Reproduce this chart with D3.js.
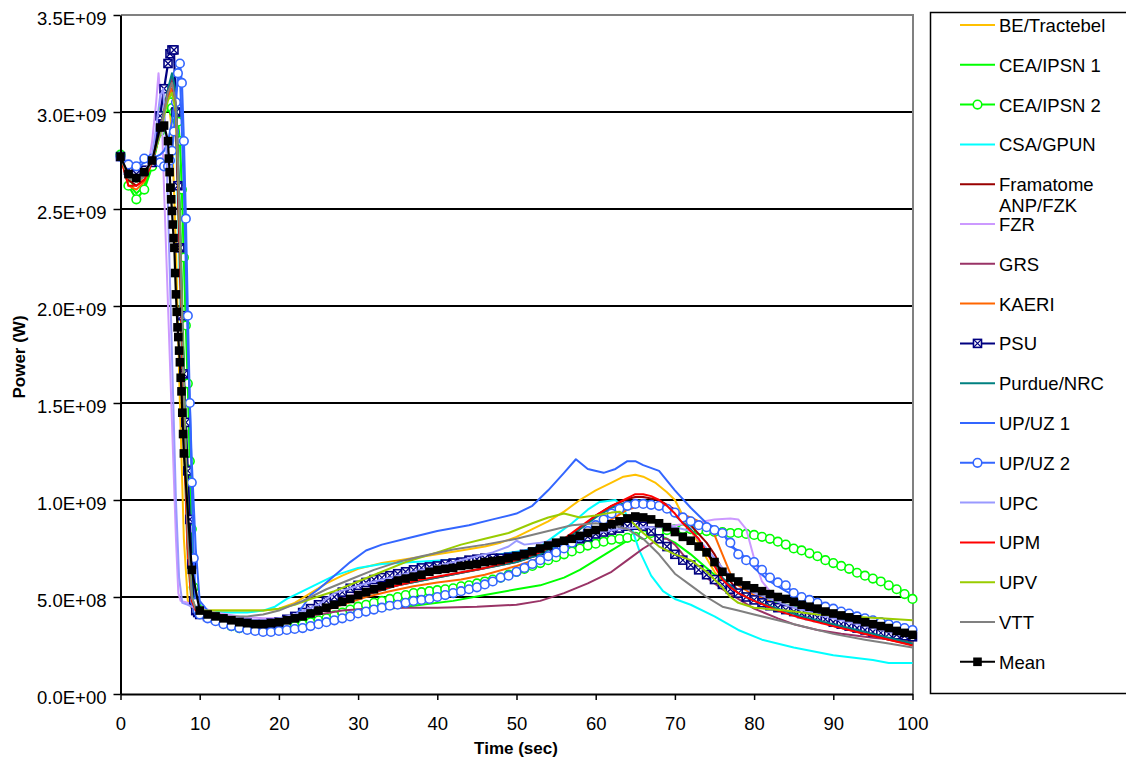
<!DOCTYPE html>
<html>
<head>
<meta charset="utf-8">
<script src="https://cdn.jsdelivr.net/npm/d3@7"></script>
<style>
  body { margin: 0; background: #fff; }
  text { font-family: "Liberation Sans", Arial, sans-serif; fill: #000; }
</style>
</head>
<body>
<svg id="chart" width="1126" height="765"></svg>
<script>
// time in s, power in units of 1E+09 W

var yTicks = [0, 0.5, 1, 1.5, 2, 2.5, 3, 3.5];
var xTicks = [0, 10, 20, 30, 40, 50, 60, 70, 80, 90, 100];

// series without markers: [time, power]
var beTractebel = [[0,2.77],[1,2.67],[2,2.64],[3,2.66],[4,2.75],[4.5,2.88],[5,3.0],[5.5,3.06],[6,3.08],[6.5,2.9],[7,2.3],[7.5,1.5],[8,0.8],[8.5,0.48],[9,0.44],[10,0.43],[12,0.43],[14,0.43],[16,0.43],[18,0.43],[20,0.44],[22,0.47],[24,0.52],[26,0.57],[28,0.61],[30,0.645],[33,0.675],[36,0.695],[40,0.72],[43,0.74],[46,0.76],[48,0.78],[50,0.81],[52,0.85],[54,0.89],[56,0.94],[58,1.0],[60,1.05],[62,1.09],[63.5,1.12],[65,1.13],[66,1.12],[67.5,1.09],[69,1.04],[70,1.0],[71,0.92],[72,0.84],[73,0.78],[74,0.70],[75,0.63],[76,0.58],[77,0.54],[78,0.52],[80,0.50],[82,0.48],[85,0.45],[88,0.41],[90,0.38],[93,0.34],[95,0.32],[98,0.29],[100,0.27]];
var ceaIpsn1 = [[0,2.77],[1,2.63],[2,2.58],[3,2.62],[4,2.73],[5,2.9],[5.5,3.0],[6,3.05],[6.5,3.07],[7,3.0],[7.5,2.5],[8,1.7],[8.5,1.0],[9,0.55],[9.5,0.45],[10,0.43],[12,0.39],[15,0.36],[17,0.35],[20,0.35],[23,0.36],[26,0.38],[30,0.41],[34,0.44],[38,0.46],[42,0.48],[46,0.51],[50,0.54],[53,0.56],[56,0.60],[58,0.64],[60,0.69],[62,0.74],[64,0.79],[66,0.825],[67,0.83],[68,0.82],[70,0.78],[72,0.72],[74,0.65],[76,0.58],[78,0.53],[80,0.50],[83,0.47],[86,0.44],[90,0.40],[94,0.35],[97,0.32],[100,0.30]];
var csaGpun = [[0,2.77],[1,2.66],[2,2.64],[3,2.67],[4,2.75],[5,2.88],[5.5,2.98],[6,3.08],[6.5,3.12],[7,2.9],[7.5,2.1],[8,1.3],[8.5,0.7],[9,0.46],[9.5,0.43],[10,0.43],[13,0.42],[16,0.42],[18,0.43],[19.5,0.45],[21,0.49],[22.5,0.52],[25,0.57],[27,0.61],[30,0.65],[33,0.67],[37,0.68],[41,0.69],[44,0.70],[48,0.72],[51,0.74],[53,0.76],[55,0.82],[57,0.88],[59,0.95],[60.5,0.99],[62.5,1.0],[63.5,0.96],[64.5,0.86],[65.5,0.74],[67,0.61],[68.5,0.53],[70,0.49],[72,0.46],[75,0.40],[78,0.33],[81,0.28],[85,0.24],[90,0.20],[95,0.175],[97,0.16],[100,0.16]];
var framatome = [[0,2.77],[1,2.65],[2,2.62],[3,2.65],[4,2.74],[5,2.9],[5.5,3.0],[6,3.1],[6.5,3.18],[7,3.05],[7.5,2.3],[8,1.4],[8.5,0.75],[9,0.48],[9.5,0.43],[10,0.42],[13,0.39],[16,0.37],[19,0.37],[22,0.40],[25,0.44],[28,0.48],[31,0.52],[35,0.56],[40,0.60],[45,0.64],[50,0.68],[53,0.72],[56,0.79],[58,0.85],[60,0.92],[62,0.97],[64,1.005],[65,1.015],[66,1.015],[68,1.0],[70,0.95],[72,0.87],[74,0.78],[75,0.72],[76,0.64],[77,0.58],[78,0.53],[80,0.49],[83,0.44],[86,0.40],[90,0.35],[94,0.31],[97,0.28],[100,0.255]];
var fzr = [[0,2.77],[1,2.68],[2,2.66],[3,2.66],[3.5,2.72],[4,2.85],[4.5,3.05],[4.8,3.2],[5.2,3.0],[5.5,2.6],[6,2.0],[6.5,1.4],[7,0.8],[7.3,0.52],[7.6,0.48],[8.5,0.47],[9.5,0.46],[10,0.45],[12,0.42],[15,0.40],[18,0.39],[20,0.39],[22,0.40],[25,0.44],[28,0.49],[31,0.54],[35,0.59],[40,0.64],[45,0.68],[50,0.72],[55,0.77],[60,0.82],[64,0.85],[67,0.86],[70,0.87],[73,0.885],[75,0.90],[77,0.905],[78,0.90],[79,0.85],[80,0.70],[81,0.58],[82,0.53],[85,0.47],[88,0.42],[91,0.38],[94,0.34],[97,0.31],[100,0.28]];
var grs = [[0,2.77],[1,2.67],[2,2.65],[3,2.68],[4,2.76],[5,2.9],[5.5,3.0],[6,3.1],[6.5,3.18],[7,3.1],[7.5,2.4],[8,1.5],[8.5,0.8],[9,0.5],[9.5,0.43],[10,0.43],[13,0.39],[16,0.37],[19,0.37],[22,0.39],[25,0.41],[28,0.43],[31,0.44],[35,0.445],[40,0.445],[45,0.45],[50,0.46],[53,0.48],[56,0.52],[59,0.57],[62,0.63],[64,0.69],[66,0.75],[68,0.80],[69,0.80],[70,0.77],[72,0.67],[74,0.60],[76,0.54],[78,0.49],[80,0.44],[83,0.39],[85,0.36],[88,0.33],[91,0.31],[95,0.29],[100,0.27]];
var kaeri = [[0,2.77],[1,2.62],[2,2.60],[3,2.64],[4,2.74],[5,2.9],[5.5,3.0],[6,3.08],[6.5,3.12],[7,2.95],[7.5,2.2],[8,1.3],[8.5,0.7],[9,0.46],[9.5,0.43],[10,0.43],[13,0.39],[16,0.37],[19,0.37],[22,0.39],[25,0.42],[28,0.46],[31,0.50],[34,0.53],[37,0.555],[40,0.575],[43,0.59],[46,0.615],[50,0.66],[53,0.70],[56,0.76],[59,0.83],[62,0.90],[64,0.95],[66,0.975],[68,0.97],[70,0.94],[72,0.91],[74,0.87],[75,0.82],[76,0.72],[77,0.62],[78,0.56],[80,0.51],[83,0.46],[86,0.41],[90,0.36],[94,0.32],[97,0.29],[100,0.27]];
var purdueNrc = [[0,2.77],[1,2.66],[2,2.64],[3,2.67],[4,2.75],[5,2.9],[5.5,3.02],[6,3.12],[6.5,3.2],[7,3.1],[7.5,2.45],[8,1.6],[8.5,0.9],[9,0.52],[9.5,0.44],[10,0.42],[13,0.39],[16,0.365],[19,0.365],[22,0.39],[25,0.43],[28,0.47],[31,0.51],[35,0.56],[40,0.60],[45,0.64],[50,0.68],[53,0.72],[56,0.79],[58,0.85],[60,0.91],[62,0.96],[64,0.99],[66,1.0],[67,0.99],[68,0.97],[70,0.92],[72,0.85],[74,0.74],[76,0.60],[78,0.52],[80,0.48],[83,0.44],[86,0.40],[90,0.36],[94,0.32],[97,0.29],[100,0.26]];
var upUz1 = [[0,2.77],[1,2.72],[2,2.71],[3,2.74],[4,2.76],[5,2.78],[5.5,2.8],[6,2.85],[6.5,2.95],[7,3.1],[7.5,3.2],[8,2.6],[8.5,1.8],[9,1.2],[9.5,0.75],[10,0.48],[11,0.43],[13,0.39],[16,0.37],[19,0.37],[21,0.38],[22,0.40],[23,0.45],[24,0.51],[25,0.54],[27,0.61],[29,0.68],[31,0.74],[33,0.77],[36,0.80],[40,0.84],[44,0.87],[47,0.90],[50,0.93],[52,0.97],[54,1.05],[56,1.14],[57.5,1.21],[59,1.16],[61,1.14],[62.5,1.16],[64,1.20],[65,1.20],[66,1.18],[68,1.15],[70,1.05],[72,0.96],[74,0.88],[76,0.84],[77,0.76],[78,0.74],[80,0.65],[82,0.58],[84,0.53],[86,0.49],[90,0.43],[94,0.39],[97,0.36],[100,0.34]];
var upc = [[0,2.77],[1,2.68],[2,2.66],[3,2.68],[4,2.78],[4.5,2.92],[5,3.08],[5.4,3.12],[5.8,2.8],[6.2,2.2],[6.6,1.6],[7,1.0],[7.4,0.6],[7.8,0.47],[8.5,0.46],[9.5,0.44],[10,0.43],[13,0.40],[16,0.38],[19,0.38],[22,0.41],[25,0.46],[27,0.52],[29,0.545],[31,0.57],[34,0.60],[37,0.63],[40,0.66],[44,0.70],[47,0.73],[49,0.76],[50,0.79],[51,0.77],[53,0.78],[56,0.80],[60,0.83],[63,0.85],[66,0.86],[70,0.86],[72,0.84],[74,0.75],[76,0.65],[78,0.57],[80,0.52],[84,0.46],[88,0.41],[92,0.37],[96,0.33],[100,0.29]];
var upm = [[0,2.77],[1,2.62],[2,2.62],[3,2.65],[4,2.74],[5,2.9],[5.5,3.0],[6,3.1],[6.5,3.15],[7,3.0],[7.5,2.3],[8,1.4],[8.5,0.75],[9,0.48],[9.5,0.43],[10,0.43],[13,0.39],[16,0.37],[18,0.365],[20,0.37],[23,0.40],[26,0.44],[30,0.50],[34,0.55],[38,0.59],[42,0.62],[46,0.65],[50,0.69],[53,0.73],[56,0.80],[58,0.86],[60,0.92],[62,0.97],[64,1.01],[65,1.03],[66,1.03],[67,1.02],[68,1.0],[69,0.97],[70,0.93],[71,0.88],[72,0.84],[73,0.80],[74,0.73],[75,0.66],[76,0.59],[77,0.55],[78,0.52],[80,0.48],[83,0.43],[86,0.39],[90,0.35],[93,0.32],[96,0.29],[100,0.25]];
var upv = [[0,2.77],[1,2.66],[2,2.64],[3,2.67],[4,2.75],[5,2.88],[5.5,2.98],[6,3.06],[6.5,3.1],[7,3.0],[7.5,2.4],[8,1.6],[8.5,0.9],[9,0.5],[9.5,0.44],[10,0.43],[12,0.43],[15,0.43],[18,0.43],[20,0.44],[22,0.46],[24,0.49],[27,0.53],[30,0.58],[33,0.63],[36,0.68],[40,0.73],[43,0.77],[46,0.80],[49,0.83],[52,0.88],[54,0.91],[56,0.93],[58,0.91],[60,0.92],[62,0.935],[63,0.94],[64,0.91],[66,0.83],[68,0.76],[70,0.72],[72,0.69],[74,0.63],[76,0.55],[77,0.50],[78,0.47],[80,0.445],[84,0.43],[88,0.41],[92,0.40],[96,0.39],[100,0.38]];
var vtt = [[0,2.77],[1,2.66],[2,2.64],[3,2.67],[4,2.75],[5,2.9],[5.5,3.0],[6,3.1],[6.5,3.15],[7,3.05],[7.5,2.4],[8,1.5],[8.5,0.8],[9,0.5],[9.5,0.44],[10,0.43],[13,0.40],[16,0.40],[18,0.41],[20,0.43],[23,0.48],[26,0.54],[29,0.59],[32,0.64],[35,0.68],[38,0.71],[42,0.745],[46,0.77],[50,0.80],[54,0.84],[57,0.87],[60,0.88],[62,0.87],[64,0.85],[66,0.80],[68,0.72],[70,0.62],[72,0.56],[74,0.50],[76,0.45],[78,0.43],[80,0.41],[83,0.38],[86,0.35],[90,0.31],[94,0.28],[97,0.26],[100,0.24]];

// series with markers: one value per time step
var tStep = d3.range(10, 101);   // 10, 11, ... 100 s
var tMarkEarly = [0,1,2,3,4,5,5.5,6,6.25,6.5,6.75,7,7.25,7.5,7.75,8,8.25,8.5,8.75,9,9.25,9.5,9.75];
var tMeanEarly = [0,1,2,3,4,5,5.5,6,6.1,6.2,6.3,6.4,6.5,6.6,6.7,6.8,6.9,7,7.1,7.2,7.3,7.4,7.5,7.6,7.7,7.8,7.9,8,9];

var ceaIpsn2 = [2.78,2.62,2.55,2.60,2.72,2.90,3.02,3.05,3.05,3.02,3.00,2.98,2.95,2.85,2.60,2.25,1.90,1.60,1.20,0.85,0.55,0.46,0.44,
  0.43,0.40,0.38,0.365,0.35,0.34,0.335,0.33,0.33,0.335,
  0.34,0.345,0.35,0.36,0.37,0.38,0.39,0.405,0.42,0.435,
  0.45,0.46,0.47,0.48,0.49,0.50,0.51,0.52,0.525,0.53,
  0.535,0.54,0.545,0.555,0.56,0.57,0.58,0.59,0.60,0.615,
  0.63,0.645,0.66,0.675,0.69,0.705,0.72,0.735,0.75,0.765,
  0.775,0.785,0.795,0.80,0.805,0.81,0.82,0.83,0.84,0.845,
  0.85,0.85,0.85,0.845,0.84,0.835,0.835,0.83,0.83,0.825,
  0.82,0.81,0.80,0.785,0.77,0.75,0.74,0.725,0.71,0.69,
  0.675,0.66,0.645,0.625,0.61,0.595,0.58,0.56,0.54,0.515,
  0.49];
var psu = [2.77,2.70,2.68,2.70,2.74,2.98,3.12,3.25,3.30,3.32,3.32,3.0,2.62,2.30,1.95,1.65,1.40,1.15,0.90,0.67,0.48,0.43,0.42,
  0.41,0.40,0.39,0.38,0.375,0.37,0.365,0.36,0.36,0.365,
  0.37,0.385,0.40,0.42,0.44,0.46,0.48,0.50,0.525,0.545,
  0.56,0.575,0.59,0.60,0.61,0.62,0.63,0.64,0.65,0.655,
  0.66,0.67,0.675,0.68,0.69,0.695,0.70,0.70,0.70,0.705,
  0.71,0.72,0.73,0.74,0.75,0.76,0.77,0.785,0.80,0.81,
  0.825,0.835,0.845,0.855,0.865,0.87,0.865,0.84,0.80,0.76,
  0.72,0.69,0.665,0.64,0.615,0.59,0.565,0.54,0.52,0.50,
  0.485,0.47,0.455,0.445,0.435,0.425,0.415,0.405,0.395,0.385,
  0.37,0.36,0.35,0.34,0.33,0.32,0.315,0.31,0.305,0.30,
  0.295];
var upUz2 = [2.77,2.73,2.72,2.76,2.76,2.74,2.72,2.72,2.75,2.80,2.90,3.05,3.20,3.25,3.15,2.85,2.45,1.95,1.50,1.09,0.70,0.47,0.43,
  0.41,0.39,0.375,0.36,0.35,0.34,0.33,0.325,0.32,0.32,
  0.325,0.33,0.335,0.34,0.35,0.36,0.37,0.38,0.39,0.40,
  0.415,0.425,0.435,0.445,0.455,0.46,0.47,0.48,0.485,0.49,
  0.50,0.51,0.52,0.53,0.54,0.55,0.565,0.58,0.60,0.61,
  0.63,0.65,0.67,0.69,0.71,0.73,0.75,0.78,0.81,0.84,
  0.87,0.90,0.93,0.955,0.97,0.98,0.98,0.975,0.97,0.955,
  0.935,0.91,0.89,0.87,0.86,0.845,0.83,0.78,0.72,0.69,
  0.68,0.64,0.60,0.575,0.56,0.52,0.50,0.485,0.47,0.45,
  0.44,0.425,0.415,0.40,0.39,0.38,0.37,0.36,0.35,0.34,
  0.33];
var mean = [2.77,2.68,2.66,2.69,2.75,2.92,2.93,2.85,2.76,2.69,2.61,2.55,2.49,2.42,2.35,2.30,2.17,2.06,1.97,1.89,1.84,1.77,1.71,1.63,1.56,1.45,1.34,1.24,0.64,
  0.43,0.41,0.40,0.39,0.38,0.37,0.365,0.36,0.36,0.365,
  0.37,0.38,0.39,0.40,0.415,0.43,0.445,0.46,0.475,0.49,
  0.51,0.525,0.54,0.555,0.57,0.585,0.595,0.605,0.615,0.63,
  0.64,0.645,0.65,0.66,0.665,0.67,0.68,0.685,0.69,0.70,
  0.71,0.72,0.735,0.75,0.765,0.78,0.79,0.80,0.815,0.83,
  0.845,0.86,0.875,0.89,0.905,0.915,0.91,0.90,0.88,0.86,
  0.835,0.81,0.79,0.76,0.73,0.68,0.63,0.60,0.58,0.56,
  0.545,0.53,0.515,0.50,0.49,0.475,0.46,0.45,0.44,0.425,
  0.415,0.405,0.395,0.385,0.37,0.36,0.35,0.34,0.325,0.315,
  0.305];

var tMark = tMarkEarly.concat(tStep);
var tMean = tMeanEarly.concat(tStep);

var series = [
  {name: ["BE/Tractebel"], color: "#FFC000", data: beTractebel},
  {name: ["CEA/IPSN 1"], color: "#00FF00", data: ceaIpsn1},
  {name: ["CEA/IPSN 2"], color: "#00FF00", data: d3.zip(tMark, ceaIpsn2), marker: "circle"},
  {name: ["CSA/GPUN"], color: "#00FFFF", data: csaGpun},
  {name: ["Framatome", "ANP/FZK"], color: "#990000", data: framatome},
  {name: ["FZR"], color: "#CC99FF", data: fzr},
  {name: ["GRS"], color: "#993366", data: grs},
  {name: ["KAERI"], color: "#FF6600", data: kaeri},
  {name: ["PSU"], color: "#000080", data: d3.zip(tMark, psu), marker: "boxx"},
  {name: ["Purdue/NRC"], color: "#008080", data: purdueNrc},
  {name: ["UP/UZ 1"], color: "#3366FF", data: upUz1},
  {name: ["UP/UZ 2"], color: "#3366FF", data: d3.zip(tMark, upUz2), marker: "circle"},
  {name: ["UPC"], color: "#9999FF", data: upc},
  {name: ["UPM"], color: "#FF0000", data: upm},
  {name: ["UPV"], color: "#99CC00", data: upv},
  {name: ["VTT"], color: "#808080", data: vtt},
  {name: ["Mean"], color: "#000000", data: d3.zip(tMean, mean), marker: "square"}
];

var svg = d3.select("#chart");
svg.append("rect").attr("width", 1126).attr("height", 765).attr("fill", "#fff");

var x = d3.scaleLinear().domain([0, 100]).range([120.5, 912.5]);
var y = d3.scaleLinear().domain([0, 3.5]).range([694, 15]);

function sci(v) {
  return (v * 1e9).toExponential(1).toUpperCase().replace(/E([+-])(\d)$/, "E$10$2");
}

// horizontal grid
svg.append("g").selectAll("line")
  .data(yTicks.filter(function(d) { return d > 0 && d < 3.5; }))
  .enter().append("line")
  .attr("x1", x(0)).attr("x2", x(100))
  .attr("y1", function(d) { return Math.round(y(d)); }).attr("y2", function(d) { return Math.round(y(d)); })
  .attr("stroke", "#000").attr("stroke-width", 2)
  .attr("shape-rendering", "crispEdges");

// plot frame, top and right
svg.append("path")
  .attr("d", "M" + x(0) + "," + y(3.5) + "H" + x(100) + "V" + y(0))
  .attr("fill", "none").attr("stroke", "#808080").attr("stroke-width", 2)
  .attr("shape-rendering", "crispEdges");

var line = d3.line()
  .x(function(d) { return x(d[0]); })
  .y(function(d) { return y(d[1]); });

function drawMarker(g, type, color, cx, cy) {
  if (type === "circle") {
    g.append("circle").attr("cx", cx).attr("cy", cy).attr("r", 4.3)
      .attr("fill", "#fff").attr("stroke", color).attr("stroke-width", 1.6);
  } else if (type === "square") {
    g.append("rect").attr("x", cx - 4.3).attr("y", cy - 4.3).attr("width", 8.6).attr("height", 8.6)
      .attr("fill", color);
  } else if (type === "boxx") {
    g.append("rect").attr("x", cx - 4).attr("y", cy - 4).attr("width", 8).attr("height", 8)
      .attr("fill", "#fff").attr("stroke", color).attr("stroke-width", 1.6);
    g.append("path")
      .attr("d", "M" + (cx - 4) + "," + (cy - 4) + "L" + (cx + 4) + "," + (cy + 4) +
                 "M" + (cx + 4) + "," + (cy - 4) + "L" + (cx - 4) + "," + (cy + 4))
      .attr("stroke", color).attr("stroke-width", 1.3);
  }
}

var plot = svg.append("g");
series.forEach(function(s) {
  var g = plot.append("g");
  g.append("path").datum(s.data)
    .attr("d", line)
    .attr("fill", "none")
    .attr("stroke", s.color)
    .attr("stroke-width", s.marker ? 2.2 : 2)
    .attr("stroke-linejoin", "round");
  if (s.marker) {
    s.data.forEach(function(d) {
      drawMarker(g, s.marker, s.color, x(d[0]), y(d[1]));
    });
  }
});

// axes
var yAxis = svg.append("g").attr("transform", "translate(" + x(0) + ",0)")
  .call(d3.axisLeft(y).tickValues(yTicks).tickFormat(sci).tickSize(7).tickSizeOuter(0).tickPadding(7));
var xAxis = svg.append("g").attr("transform", "translate(0," + y(0) + ")")
  .call(d3.axisBottom(x).tickValues(xTicks).tickSize(6).tickSizeOuter(0).tickPadding(17));

[yAxis, xAxis].forEach(function(a) {
  a.select(".domain").attr("stroke", "#000").attr("stroke-width", 2);
  a.selectAll(".tick line").attr("stroke", "#000").attr("stroke-width", 1.5);
  a.selectAll(".tick text")
    .style("font-family", "'Liberation Sans', Arial, sans-serif")
    .style("font-size", "18.5px").attr("fill", "#000");
});
yAxis.selectAll(".tick text").attr("dy", "0.49em");

svg.append("text")
  .attr("x", 516).attr("y", 754)
  .attr("text-anchor", "middle")
  .style("font-size", "17px").style("font-weight", "bold")
  .text("Time (sec)");

svg.append("text")
  .attr("transform", "translate(25,357) rotate(-90)")
  .attr("text-anchor", "middle")
  .style("font-size", "17px").style("font-weight", "bold")
  .text("Power (W)");

// legend
var legend = svg.append("g");
legend.append("rect")
  .attr("x", 930.5).attr("y", 12.5).attr("width", 220).attr("height", 681)
  .attr("fill", "#fff").attr("stroke", "#000").attr("stroke-width", 1.5);

series.forEach(function(s, i) {
  var ly = 25 + i * 39.8;
  var g = legend.append("g");
  g.append("line").attr("x1", 960).attr("x2", 995).attr("y1", ly).attr("y2", ly)
    .attr("stroke", s.color).attr("stroke-width", 2);
  if (s.marker) drawMarker(g, s.marker, s.color, 977.5, ly);
  s.name.forEach(function(t, j) {
    g.append("text")
      .attr("x", 999).attr("y", ly + 7 + j * 21)
      .style("font-size", "18.5px")
      .text(t);
  });
});
</script>
</body>
</html>
